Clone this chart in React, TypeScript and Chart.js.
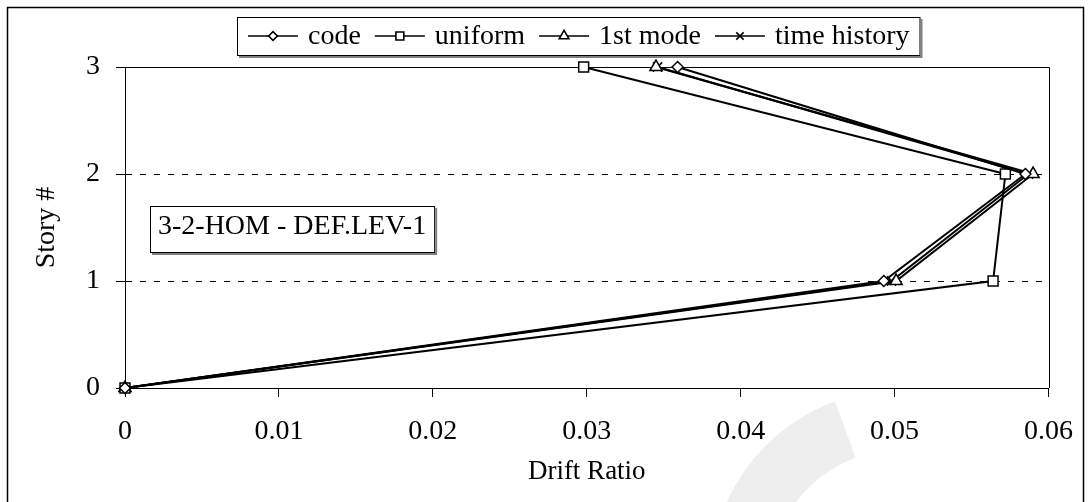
import React, { useEffect, useRef } from 'react';
import { Chart, registerables } from 'chart.js';
import { drawPoint } from 'chart.js/helpers';

Chart.register(...registerables);

// ---- data ----
const storyLevels = [0, 1, 2, 3];
const codeDrift = [0, 0.0493, 0.0585, 0.0359];
const uniformDrift = [0, 0.0564, 0.0572, 0.0298];
const firstModeDrift = [0, 0.0501, 0.059, 0.0345];
const timeHistoryDrift = [0, 0.0498, 0.0587, 0.0346];
const seriesLabels = ['code', 'uniform', '1st mode', 'time history'];
const seriesMarkers = ['rectRot', 'rect', 'triangle', 'crossRot'];
const markerRadius = [5.5, 7, 7, 6.5];
const xTickValues = [0, 0.01, 0.02, 0.03, 0.04, 0.05, 0.06];
const yTickValues = [0, 1, 2, 3];
const xTitle = 'Drift Ratio';
const yTitle = 'Story #';
const annotationText = '3-2-HOM - DEF.LEV-1';

const FONT = '"Liberation Serif", "Times New Roman", serif';
const W = 1091;
const H = 502;
const TICK_SIZE = 28;
const TITLE_SIZE = 27;
const LEGEND_SIZE = 28;

const seriesValues = [codeDrift, uniformDrift, firstModeDrift, timeHistoryDrift];

const decorPlugin = {
  id: 'decor',
  beforeDraw(chart: any) {
    const { ctx } = chart;
    ctx.save();
    ctx.fillStyle = '#fff';
    ctx.fillRect(0, 0, chart.width, chart.height);
    // faint background watermark fragment
    ctx.fillStyle = '#eeeeee';
    ctx.beginPath();
    ctx.arc(900, 580, 190, (200 * Math.PI) / 180, (250 * Math.PI) / 180);
    ctx.arc(900, 580, 130, (250 * Math.PI) / 180, (200 * Math.PI) / 180, true);
    ctx.closePath();
    ctx.fill();
    ctx.restore();
  },
  beforeDatasetsDraw(chart: any) {
    const { ctx, chartArea: a } = chart;
    ctx.save();
    ctx.strokeStyle = '#000';
    ctx.lineWidth = 1;
    ctx.beginPath();
    ctx.moveTo(a.left, Math.round(a.top) + 0.5);
    ctx.lineTo(Math.round(a.right) + 0.5, Math.round(a.top) + 0.5);
    ctx.lineTo(Math.round(a.right) + 0.5, a.bottom);
    ctx.stroke();
    ctx.restore();
  },
  afterDraw(chart: any) {
    const { ctx, chartArea: a } = chart;
    ctx.save();
    // outer frame
    ctx.strokeStyle = '#000';
    ctx.lineWidth = 1.5;
    ctx.strokeRect(7.5, 7.5, 1076, 520);

    // legend
    ctx.font = `${LEGEND_SIZE}px ${FONT}`;
    ctx.textBaseline = 'middle';
    ctx.textAlign = 'left';
    const lTop = 17;
    const lBottom = 55;
    const lLeft = 237;
    const cy = (lTop + lBottom) / 2;
    let x = lLeft + 11;
    const seg = 50;
    const datasets = chart.data.datasets;
    datasets.forEach((ds: any) => {
      ctx.strokeStyle = '#000';
      ctx.lineWidth = 1.6;
      ctx.beginPath();
      ctx.moveTo(x, cy);
      ctx.lineTo(x + seg, cy);
      ctx.stroke();
      ctx.fillStyle = '#fff';
      ctx.strokeStyle = '#000';
      drawPoint(ctx, { pointStyle: ds.pointStyle, radius: ds.pointRadius * 0.8, borderWidth: 1.3, rotation: 0 }, x + seg / 2, cy);
      ctx.fillStyle = '#000';
      ctx.fillText(ds.label, x + seg + 10, cy + 1);
      x += seg + 10 + ctx.measureText(ds.label).width + 14;
    });
    const lRight = x - 4;
    ctx.strokeStyle = '#000';
    ctx.lineWidth = 1;
    ctx.strokeRect(lLeft + 0.5, lTop + 0.5, lRight - lLeft, lBottom - lTop);
    ctx.strokeStyle = '#808080';
    ctx.lineWidth = 2;
    ctx.beginPath();
    ctx.moveTo(lLeft + 2, lBottom + 2);
    ctx.lineTo(lRight + 2, lBottom + 2);
    ctx.lineTo(lRight + 2, lTop + 2);
    ctx.stroke();

    // annotation box
    ctx.font = `${LEGEND_SIZE}px ${FONT}`;
    const tw = ctx.measureText(annotationText).width;
    const bx = a.left + 25;
    const by = 206;
    const bw = tw + 16;
    const bh = 46;
    ctx.fillStyle = '#fff';
    ctx.fillRect(bx, by, bw, bh);
    ctx.strokeStyle = '#000';
    ctx.lineWidth = 1;
    ctx.strokeRect(bx + 0.5, by + 0.5, bw, bh);
    ctx.strokeStyle = '#808080';
    ctx.lineWidth = 2;
    ctx.beginPath();
    ctx.moveTo(bx + 2, by + bh + 2);
    ctx.lineTo(bx + bw + 2, by + bh + 2);
    ctx.lineTo(bx + bw + 2, by + 2);
    ctx.stroke();
    ctx.fillStyle = '#000';
    ctx.textAlign = 'left';
    ctx.textBaseline = 'alphabetic';
    ctx.fillText(annotationText, bx + 8, by + 28);
    ctx.restore();
  },
};

export default function App() {
  const ref = useRef<HTMLCanvasElement | null>(null);
  useEffect(() => {
    if (!ref.current) return;
    Chart.defaults.font.family = FONT;
    Chart.defaults.color = '#000';
    const chart = new Chart(ref.current, {
      type: 'scatter',
      data: {
        datasets: seriesLabels.map((label, i) => ({
          label,
          data: storyLevels.map((s, j) => ({ x: seriesValues[i][j], y: s })),
          showLine: true,
          borderColor: '#000',
          borderWidth: 2,
          pointStyle: seriesMarkers[i] as any,
          pointRadius: markerRadius[i],
          pointBorderWidth: 1.5,
          pointBackgroundColor: '#fff',
          pointBorderColor: '#000',
          clip: false as any,
        })),
      },
      options: {
        animation: false,
        responsive: false,
        devicePixelRatio: 1,
        layout: { padding: { left: 0, right: W - 1054, top: 67, bottom: 0 } },
        plugins: { legend: { display: false }, tooltip: { enabled: false } },
        scales: {
          x: {
            type: 'linear',
            min: 0,
            max: 0.06,
            afterBuildTicks: (s: any) => {
              s.ticks = xTickValues.map((v) => ({ value: v }));
            },
            afterFit: (s: any) => {
              s.height = H - 388;
            },
            ticks: {
              font: { size: TICK_SIZE },
              color: '#000',
              padding: 18,
              maxRotation: 0,
              callback: (v: any) => (Number(v) === 0 ? '0' : Number(v).toFixed(2)),
            },
            grid: { drawOnChartArea: false, drawTicks: true, tickLength: 9, tickColor: '#000', tickWidth: 1 },
            border: { color: '#000', width: 1 },
            title: { display: true, text: xTitle, font: { size: TITLE_SIZE }, color: '#000', padding: { top: 0, bottom: 14 } },
          },
          y: {
            type: 'linear',
            min: 0,
            max: 3,
            afterBuildTicks: (s: any) => {
              s.ticks = yTickValues.map((v) => ({ value: v }));
            },
            afterFit: (s: any) => {
              s.width = 125;
            },
            ticks: { font: { size: TICK_SIZE }, color: '#000', padding: 16 },
            grid: {
              drawTicks: true,
              tickLength: 9,
              tickColor: '#000',
              color: (c: any) => (c.tick && (c.tick.value === 1 || c.tick.value === 2) ? '#000' : 'rgba(0,0,0,0)'),
              lineWidth: 1,
            },
            border: { color: '#000', width: 1, dash: [6, 8] },
            title: { display: true, text: yTitle, font: { size: 28 }, color: '#000', padding: { top: 30, bottom: 0 } },
          },
        },
      },
      plugins: [decorPlugin],
    });
    return () => chart.destroy();
  }, []);
  return (
    <div style={{ position: 'fixed', left: 0, top: 0, width: W, height: H }}>
      <canvas ref={ref} width={W} height={H} style={{ display: 'block', width: W, height: H }} />
    </div>
  );
}
